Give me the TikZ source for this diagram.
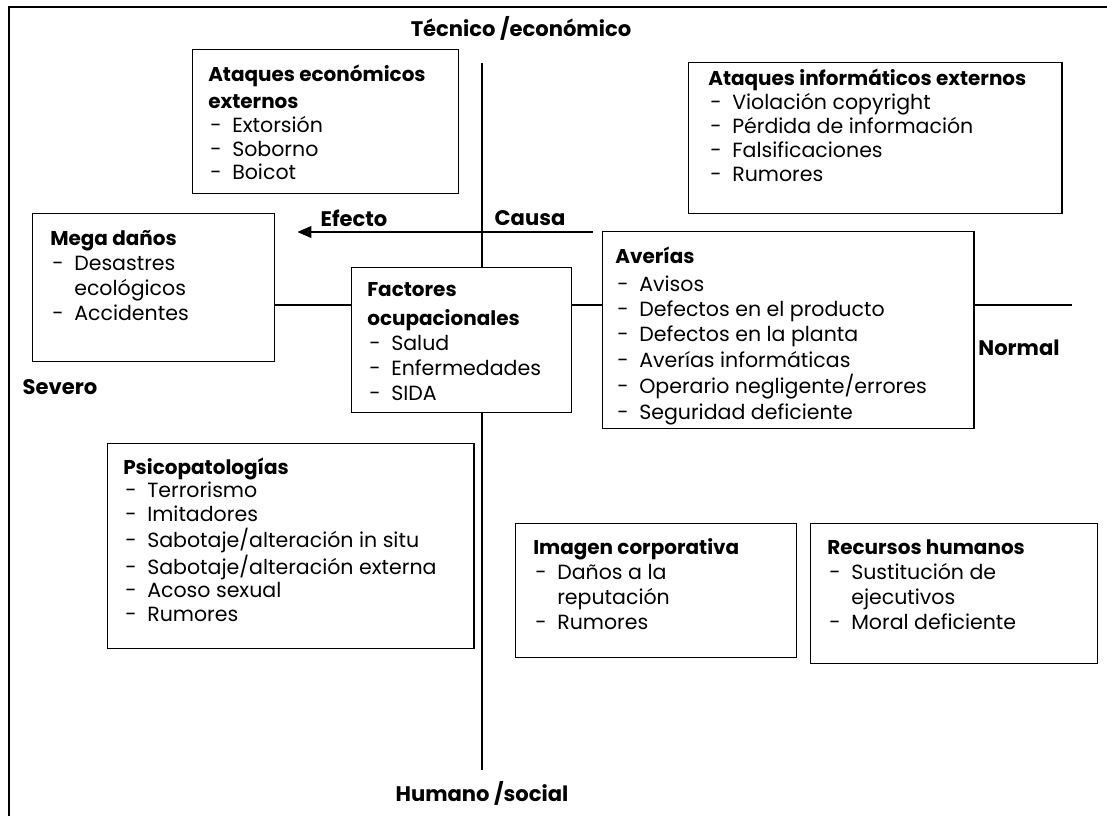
\documentclass[tikz,border=0pt]{standalone}
\usepackage{fontspec}
\setmainfont{Poppins}
\usetikzlibrary{arrows.meta}

\tikzset{
  caja/.style={draw, line width=1pt, fill=white, anchor=north west, inner sep=0pt},
  texto/.style={anchor=base west, inner sep=0pt, font=\fontsize{14.6}{16.8}\selectfont},
  ancho/.style={font=\fontsize{14.6}{17.9}\selectfont},
  rotulo/.style={inner sep=0pt, font=\bfseries\fontsize{15}{16}\selectfont},
  eje/.style={line width=0.8pt},
  flecha/.style={line width=0.8pt, -{Triangle[length=0.35cm, width=0.3cm]}},
}
\newcommand{\titulo}[1]{{\bfseries\fontsize{14.2}{16.7}\selectfont #1}}
\newcommand{\guion}{\hspace*{0.05cm}\makebox[0.55cm][l]{-}}
\newcommand{\sigue}{\hspace*{0.6cm}}
\newcommand{\lista}[1]{\begin{tabular}[t]{@{}l@{}}#1\end{tabular}}

\begin{document}
\begin{tikzpicture}[x=0.025cm, y=-0.025cm]
	\useasboundingbox (0,0) rectangle (1107,816);
	% marco
	\draw[line width=1pt] (1107,7) -- (9,7) -- (9,816);

	% cajas
	\node[caja, minimum width=6.65cm, minimum height=3.6cm] (economicos) at (192,49) {};
	\node[caja, minimum width=9.325cm, minimum height=3.775cm] (informaticos) at (688,62) {};
	\node[caja, minimum width=6.05cm, minimum height=3.7cm] (megadanos) at (32,213) {};
	\node[caja, minimum width=5.5cm, minimum height=3.625cm] (factores) at (351,267) {};
	\node[caja, minimum width=9.275cm, minimum height=4.925cm] (averias) at (602,231) {};
	\node[caja, minimum width=9.15cm, minimum height=5.125cm] (psico) at (107,443) {};
	\node[caja, minimum width=7.025cm, minimum height=3.35cm] (imagen) at (515,523) {};
	\node[caja, minimum width=7.175cm, minimum height=3.5cm] (recursos) at (810,523) {};

	% textos de las cajas
	\node[texto] (economicos-t) at (208,81) {\lista{\titulo{Ataques económicos}\\[3pt] \titulo{externos}\\
		\guion Extorsión\\ \guion Soborno\\ \guion Boicot}};
	\node[texto, font=\fontsize{14.6}{17.1}\selectfont] (informaticos-t) at (708,85) {\lista{\titulo{Ataques informáticos externos}\\
		\guion Violación copyright\\ \guion Pérdida de información\\ \guion Falsificaciones\\ \guion Rumores}};
	\node[texto, ancho] (megadanos-t) at (50,245) {\lista{\titulo{Mega daños}\\
		\guion Desastres\\ \sigue ecológicos\\ \guion Accidentes}};
	\node[texto, ancho] (factores-t) at (367,296) {\lista{\titulo{Factores}\\[3pt] \titulo{ocupacionales}\\
		\guion Salud\\ \guion Enfermedades\\ \guion SIDA}};
	\node[texto, font=\fontsize{14.6}{18}\selectfont] (averias-t) at (615,263) {\lista{\titulo{Averías}\\[2pt]
		\guion Avisos\\ \guion Defectos en el producto\\ \guion Defectos en la planta\\
		\guion Averías informáticas\\ \guion Operario negligente/errores\\ \guion Seguridad deficiente}};
	\node[texto] (psico-t) at (123,474) {\lista{\titulo{Psicopatologías}\\
		\guion Terrorismo\\ \guion Imitadores\\ \guion Sabotaje/alteración in situ\\
		\guion Sabotaje/alteración externa\\ \guion Acoso sexual\\ \guion Rumores}};
	\node[texto, ancho] (imagen-t) at (533,554) {\lista{\titulo{Imagen corporativa}\\
		\guion Daños a la\\ \sigue reputación\\ \guion Rumores}};
	\node[texto, ancho] (recursos-t) at (827,554) {\lista{\titulo{Recursos humanos}\\
		\guion Sustitución de\\ \sigue ejecutivos\\ \guion Moral deficiente}};

	% rotulos de los ejes
	\node[rotulo] (tecnico) at (521,28) {Técnico /económico};
	\node[rotulo] (humano) at (482,793) {Humano /social};
	\node[rotulo] (severo) at (60,387) {Severo};
	\node[rotulo] (normal) at (1019,348) {Normal};
	\node[rotulo] (efecto) at (354,218) {Efecto};
	\node[rotulo] (causa) at (530,218) {Causa};

	% ejes
	\coordinate (ejearriba) at (482,63);
	\coordinate (ejeabajo) at (482,770);
	\coordinate (ejeder) at (1072,305);
	\coordinate (inicio) at (593,232);
	\draw[eje] (ejearriba) -- (ejearriba |- factores.north);
	\draw[eje] (ejeabajo |- factores.south) -- (ejeabajo);
	\draw[eje] (megadanos.east |- ejeder) -- (factores.west |- ejeder);
	\draw[eje] (factores.east |- ejeder) -- (averias.west |- ejeder);
	\draw[eje] (averias.east |- ejeder) -- (ejeder);
	\draw[flecha, shorten >=0.55cm] (inicio) -- (inicio -| megadanos.east);
\end{tikzpicture}
\end{document}
